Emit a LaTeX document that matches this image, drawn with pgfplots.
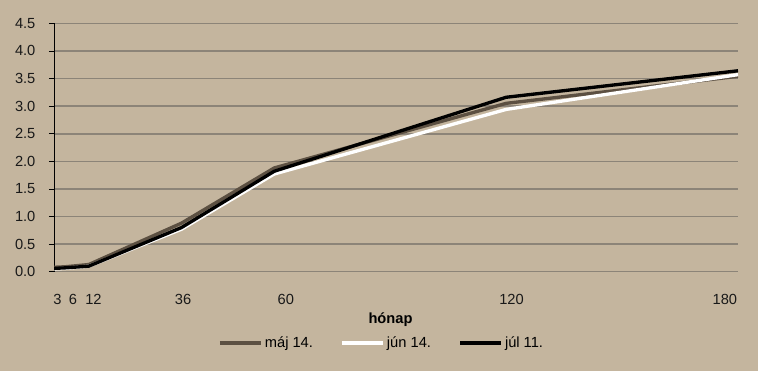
\documentclass[border=0pt]{standalone}
\usepackage{fontspec}
\setmainfont{Liberation Sans}
\usepackage{pgfplots}
\pgfplotsset{compat=1.18}
\definecolor{bg}{RGB}{196,181,158}
\definecolor{gridc}{RGB}{140,132,120}
\definecolor{may}{RGB}{92,80,66}
\begin{document}
\fontsize{11}{13}\selectfont
\begin{tikzpicture}[x=1pt,y=1pt]
\fill[bg] (0,0) rectangle (568.5,278.25);
\begin{axis}[
 at={(40.5pt,74.475pt)}, anchor=south west,
 scale only axis, width=513pt, height=186.3pt,
 xmin=3, xmax=180, ymin=0, ymax=4.5,
 ytick={0,0.5,1,1.5,2,2.5,3,3.5,4,4.5},
 xtick={3.9,7.9,13.2,36.4,63.0,121.4,176.6},
 xticklabels={3,6,12,36,60,120,180},
 /pgf/number format/.cd, fixed, fixed zerofill, precision=1, assume math mode=true,
 /pgfplots/.cd,
 axis lines*=left,
 axis line style={-},
 y axis line style={black, line width=0.6pt},
 x axis line style={gridc, line width=1.2pt},
 ymajorgrids, grid style={gridc, line width=1.2pt},
 tick align=outside, major tick length=3.75pt,
 ytick style={black, line width=0.6pt},
 xtick style={draw=none},
 yticklabel style={anchor=east, inner sep=0pt, xshift=-10pt, text=black!90},
 xticklabel style={anchor=center, inner sep=0pt, yshift=-17pt, text=black!90},
 xlabel={\textbf{hónap}},
 xlabel style={at={(axis description cs:0.492,0)}, anchor=center, yshift=-36.2pt, inner sep=0pt},
 legend columns=3,
 legend style={draw=none, fill=none, at={(axis description cs:0.479,0)}, anchor=center, yshift=-53.5pt,
   /tikz/every even column/.append style={column sep=19pt}, nodes={inner sep=1.5pt}},
 legend image code/.code={\draw[#1] (0pt,0pt) -- (31pt,0pt);},
 legend cell align=left,
]
\addplot[may, line width=2.5pt] coordinates {(3,0.08) (6,0.09) (12,0.13) (36,0.88) (60,1.88) (120,3.05) (180,3.54)};
\addlegendentry{máj 14.}
\addplot[white, line width=2.5pt] coordinates {(3,0.05) (6,0.06) (12,0.10) (36,0.77) (60,1.77) (120,2.94) (180,3.57)};
\addlegendentry{jún 14.}
\addplot[black, line width=2.5pt] coordinates {(3,0.06) (6,0.07) (12,0.10) (36,0.80) (60,1.82) (120,3.16) (180,3.64)};
\addlegendentry{júl 11.}
\end{axis}
\end{tikzpicture}
\end{document}
